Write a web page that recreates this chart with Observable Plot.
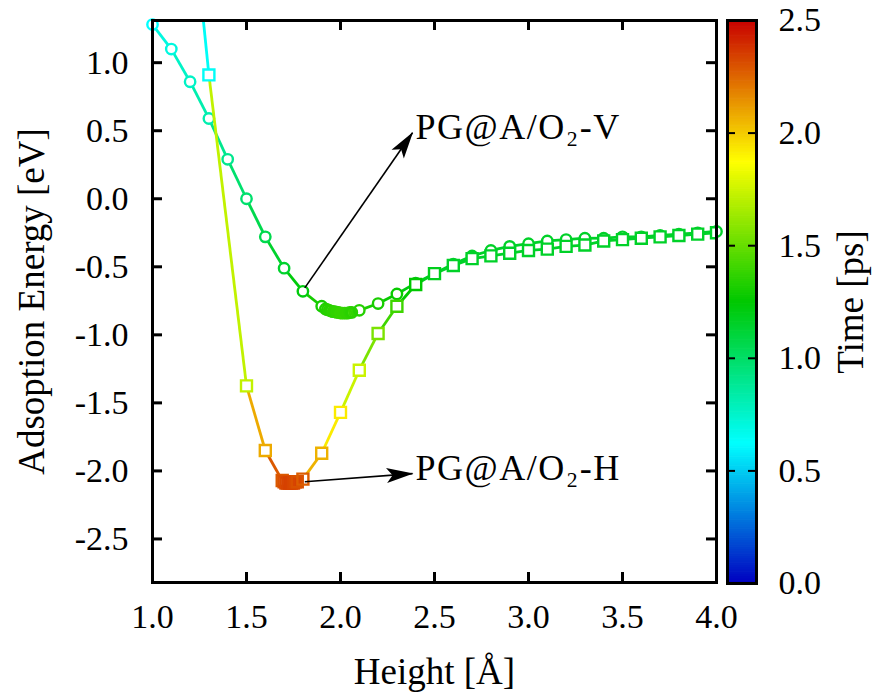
<!DOCTYPE html>
<html><head><meta charset="utf-8">
<script src="https://cdn.jsdelivr.net/npm/d3@7"></script>
<script src="https://cdn.jsdelivr.net/npm/@observablehq/plot@0.6"></script>
<style>
body{margin:0;background:#fff;}
#wrap{position:relative;width:873px;height:693px;}
#wrap svg{position:absolute;left:0;top:0;}
</style></head><body><div id="wrap"></div>
<script>
// ---- data ----
// PG@A/O2-V (circles)
const vX = [1.0,1.1,1.2,1.3,1.4,1.5,1.6,1.7,1.8,1.9,
  1.92,1.93,1.94,1.95,1.96,1.97,1.98,1.99,2.00,2.01,2.02,2.03,2.04,2.05,2.06,
  2.1,2.2,2.3,2.4,
  2.5,2.6,2.7,2.8,2.9,3.0,3.1,3.2,3.3,3.4,3.5,3.6,3.7,3.8,3.9,4.0];
const vY = [1.28,1.10,0.86,0.59,0.29,0.00,-0.28,-0.51,-0.68,-0.79,
  -0.81,-0.815,-0.82,-0.825,-0.83,-0.83,-0.835,-0.835,-0.84,-0.84,-0.84,-0.84,-0.84,-0.835,-0.835,
  -0.82,-0.77,-0.70,-0.62,
  -0.55,-0.48,-0.42,-0.38,-0.35,-0.33,-0.31,-0.30,-0.29,-0.29,-0.28,-0.28,-0.27,-0.26,-0.25,-0.24];
const vT = [0.62,0.70,0.76,0.82,0.90,0.98,1.06,1.14,1.22,1.30,
  1.33,1.34,1.35,1.35,1.36,1.36,1.37,1.37,1.38,1.38,1.38,1.37,1.37,1.36,1.35,
  1.34,1.31,1.27,1.21,
  1.15,1.15,1.15,1.15,1.15,1.15,1.15,1.15,1.15,1.15,1.15,1.15,1.15,1.15,1.15,1.15];
// PG@A/O2-H (squares)
const hX = [1.2,1.3,1.5,1.6,
  1.69,1.70,1.71,1.72,1.73,1.74,1.75,1.76,1.77,
  1.8,1.9,2.0,2.1,2.2,2.3,2.4,
  2.5,2.6,2.7,2.8,2.9,3.0,3.1,3.2,3.3,3.4,3.5,3.6,3.7,3.8,3.9,4.0];
const hY = [2.27,0.91,-1.375,-1.85,
  -2.07,-2.08,-2.09,-2.09,-2.09,-2.09,-2.09,-2.08,-2.08,
  -2.06,-1.87,-1.57,-1.26,-0.99,-0.79,-0.63,
  -0.55,-0.49,-0.44,-0.42,-0.40,-0.38,-0.37,-0.35,-0.34,-0.31,-0.30,-0.29,-0.28,-0.27,-0.26,-0.25];
const hT = [0.62,0.64,1.72,2.08,
  2.28,2.30,2.32,2.33,2.34,2.34,2.33,2.32,2.30,
  2.27,2.06,1.92,1.74,1.55,1.40,1.25,
  1.18,1.15,1.15,1.15,1.15,1.15,1.15,1.15,1.15,1.15,1.15,1.15,1.15,1.15,1.15,1.15];
// annotations
const annX1 = [1.81, 1.81];
const annY1 = [-0.655, -2.08];
const annX2 = [2.383, 2.383];
const annY2 = [0.485, -2.02];
const annLabels = ["PG@A/O₂-V", "PG@A/O₂-H"];
// ticks
const xTicks = [1.0,1.5,2.0,2.5,3.0,3.5,4.0];
const yTicks = [1.0,0.5,0.0,-0.5,-1.0,-1.5,-2.0,-2.5];
const cTicks = [0.0,0.5,1.0,1.5,2.0,2.5];
const xLabel = "Height [Å]";
const yLabel = "Adsoption Energy [eV]";
const cLabel = "Time [ps]";

// ---- build tables ----
const toPts = (X,Y,T) => X.map((x,i)=>({x, y:Y[i], t:T[i]}));
const toSegs = (X,Y,T) => X.slice(1).map((x,i)=>({x1:X[i], y1:Y[i], x2:x, y2:Y[i+1], t:T[i+1]}));
const V = toPts(vX,vY,vT), H = toPts(hX,hY,hT);
const Vs = toSegs(vX,vY,vT), Hs = toSegs(hX,hY,hT);
const ann = annLabels.map((l,i)=>i);

const W = 873, Ht = 693;
const mL = 152, mR = W-716, mT = 20, mB = Ht-582;
const fW = W-mL-mR, fH = Ht-mT-mB;
const font = "'Liberation Serif', 'DejaVu Serif', serif";
const color = {type:"linear", domain:[0,0.62,1.25,1.87,2.5],
  range:["#0000c0","#00ffff","#00c800","#ffff00","#c80000"], interpolate:"rgb"};

const lw = 2.8, cr = 5.2, sr = 6.2, mw = 2.4;
const main = Plot.plot({
  width: W, height: Ht, marginLeft: mL, marginRight: mR, marginTop: mT, marginBottom: mB,
  x: {domain:[1,4], axis:null},
  y: {domain:[-2.82,1.31], axis:null},
  color,
  style: {fontFamily: font, background: "transparent", color: "black"},
  marks: [
    Plot.link(Vs, {x1:"x1", y1:"y1", x2:"x2", y2:"y2", stroke:"t", strokeWidth:lw, clip:true}),
    Plot.dot(V, {x:"x", y:"y", symbol:"circle", r:cr, fill:"white", stroke:"none"}),
    Plot.dot(V, {x:"x", y:"y", symbol:"circle", r:cr, fill:"none", stroke:"t", strokeWidth:mw}),
    Plot.link(Hs, {x1:"x1", y1:"y1", x2:"x2", y2:"y2", stroke:"t", strokeWidth:lw, clip:true}),
    Plot.dot(H, {x:"x", y:"y", symbol:"square", r:sr, fill:"white", stroke:"none", clip:true}),
    Plot.dot(H, {x:"x", y:"y", symbol:"square", r:sr, fill:"none", stroke:"t", strokeWidth:mw, clip:true}),
    // annotation arrows + labels
    Plot.link(ann, {x1:i=>annX1[i], y1:i=>annY1[i], x2:i=>annX2[i], y2:i=>annY2[i],
      stroke:"black", strokeWidth:1.6, markerEnd:"arrow"}),
    Plot.text(ann, {x:i=>annX2[i], y:i=>annY2[i], text:i=>annLabels[i], textAnchor:"start",
      lineAnchor:"bottom", dx:3, dy:6, fontSize:36, fill:"black"}),
    // ticks (inward, mirrored)
    Plot.ruleX(xTicks, {x:d=>d, insetTop:fH-10, stroke:"black", strokeWidth:3}),
    Plot.ruleX(xTicks, {x:d=>d, insetBottom:fH-10, stroke:"black", strokeWidth:3}),
    Plot.ruleY(yTicks, {y:d=>d, insetRight:fW-10, stroke:"black", strokeWidth:3}),
    Plot.ruleY(yTicks, {y:d=>d, insetLeft:fW-10, stroke:"black", strokeWidth:3}),
    Plot.frame({stroke:"black", strokeWidth:3}),
    // tick labels
    Plot.text(xTicks, {x:d=>d, text:d=>d.toFixed(1), frameAnchor:"bottom", textAnchor:"middle", dy:45, lineAnchor:"bottom", fontSize:34, fill:"black"}),
    Plot.text(yTicks, {y:d=>d, text:d=>d.toFixed(1), frameAnchor:"left", dx:-24, textAnchor:"end", lineAnchor:"middle", fontSize:34, fill:"black"}),
    // axis titles
    Plot.text([xLabel], {text:d=>d, frameAnchor:"bottom", textAnchor:"middle", dy:101, lineAnchor:"bottom", fontSize:37, fill:"black"}),
    Plot.text([yLabel], {text:d=>d, frameAnchor:"left", textAnchor:"middle", dx:-109, rotate:-90, lineAnchor:"bottom", fontSize:37, fill:"black"})
  ]
});

// filled, notched arrow heads like the reference
d3.select(main).selectAll("marker").each(function(){
  const m = d3.select(this);
  m.attr("viewBox","-27 -8 29 16").attr("markerUnits","userSpaceOnUse")
   .attr("markerWidth",29).attr("markerHeight",16).attr("refX",0).attr("refY",0)
   .attr("fill","black").attr("stroke","none");
  m.selectAll("*").remove();
  m.append("path").attr("d","M1,0L-26,-7.5L-20,0L-26,7.5Z");
});
// wider set annotation labels (Computer Modern look)
d3.select(main).selectAll("text").filter(function(){ return annLabels.includes(this.textContent); })
  .style("letter-spacing","1.5px");

// ---- colour bar ----
const cbL = 727, cbR = 756, cbT = 20, cbB = 583;
const cbW = cbR-cbL;
const step = 0.01;
const ramp = d3.range(0, 2.5, step).map(a => ({a, b: Math.min(2.5, a+step+0.003), v: a+step/2}));
const bar = Plot.plot({
  width: W, height: Ht, marginLeft: cbL, marginRight: W-cbR, marginTop: cbT, marginBottom: Ht-cbB,
  x: {domain:[0,1], axis:null},
  y: {domain:[0,2.5], axis:null},
  color,
  style: {fontFamily: font, background: "transparent", color: "black"},
  marks: [
    Plot.rect(ramp, {x1:()=>0, x2:()=>1, y1:"a", y2:"b", fill:"v"}),
    Plot.ruleY(cTicks.slice(1,-1), {y:d=>d, insetRight:cbW-8, stroke:"black", strokeWidth:2}),
    Plot.ruleY(cTicks.slice(1,-1), {y:d=>d, insetLeft:cbW-8, stroke:"black", strokeWidth:2}),
    Plot.frame({stroke:"black", strokeWidth:3}),
    Plot.text(cTicks, {y:d=>d, text:d=>d.toFixed(1), frameAnchor:"right", dx:22, textAnchor:"start", lineAnchor:"middle", fontSize:34, fill:"black"}),
    Plot.text([cLabel], {text:d=>d, frameAnchor:"right", dx:106, textAnchor:"middle", rotate:-90, lineAnchor:"bottom", fontSize:37, fill:"black"})
  ]
});

const wrap = document.getElementById("wrap");
wrap.appendChild(main);
wrap.appendChild(bar);
</script></body></html>
